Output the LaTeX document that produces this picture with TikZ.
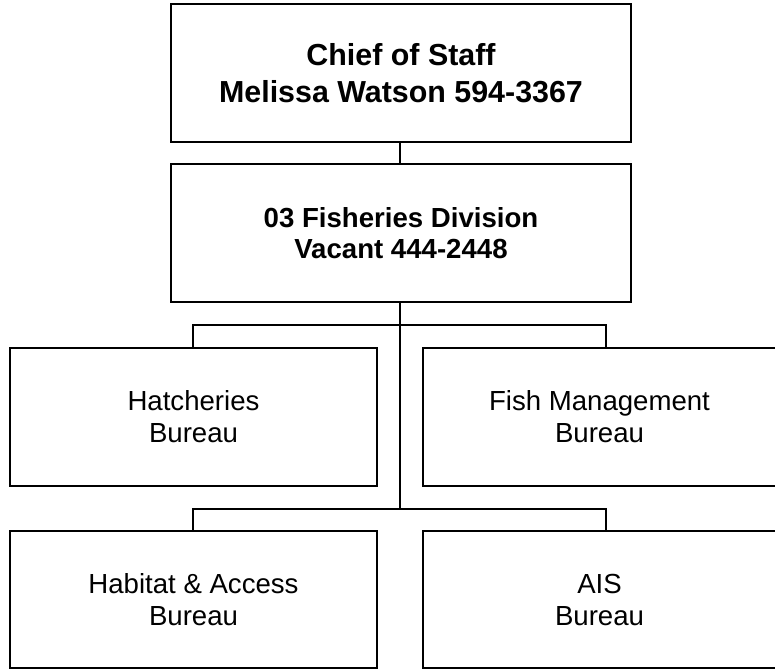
\documentclass[tikz,border=0pt]{standalone}
\usepackage{fontspec}
\setmainfont{Liberation Sans}
\begin{document}
\begin{tikzpicture}[x=1pt,y=-1pt,
  box/.style={draw=black,line width=2pt,rectangle,inner sep=0pt,align=center,
    font=\fontsize{27.6}{32}\selectfont},
  topbox/.style={box,font=\fontsize{30.4}{36.7}\selectfont\bfseries},
  midbox/.style={box,font=\fontsize{27.6}{31.6}\selectfont\bfseries},
  conn/.style={draw=black,line width=1.5pt}]
\useasboundingbox[fill=white] (0,0) rectangle (775,669);
\node[topbox,minimum width=460pt,minimum height=138pt] (top) at (401,73)
  {Chief of Staff\\Melissa Watson 594-3367};
\node[midbox,minimum width=460pt,minimum height=138pt] (div) at (401,233)
  {03 Fisheries Division\\Vacant 444-2448};
\node[box,minimum width=367pt,minimum height=138pt] (hatch) at (193.5,417)
  {Hatcheries\\Bureau};
\node[box,minimum width=353pt,minimum height=138pt] (fish) at (599.5,417)
  {Fish Management\\Bureau};
\node[box,minimum width=367pt,minimum height=137pt] (hab) at (193.5,599.5)
  {Habitat \& Access\\Bureau};
\node[box,minimum width=353pt,minimum height=137pt] (ais) at (599.5,599.5)
  {AIS\\Bureau};
\coordinate (t1) at (400,325);
\coordinate (t2) at (400,509);
\coordinate (r1) at (606,348);
\coordinate (r2) at (606,531);
\coordinate (l1) at (193,348);
\coordinate (l2) at (193,531);
\draw[conn] (top.south -| t1) -- (div.north -| t1);
\draw[conn] (div.south -| t1) -- (t2);
\draw[conn] (l1) |- (t1) -| (r1);
\draw[conn] (l2) |- (t2) -| (r2);
\end{tikzpicture}
\end{document}
